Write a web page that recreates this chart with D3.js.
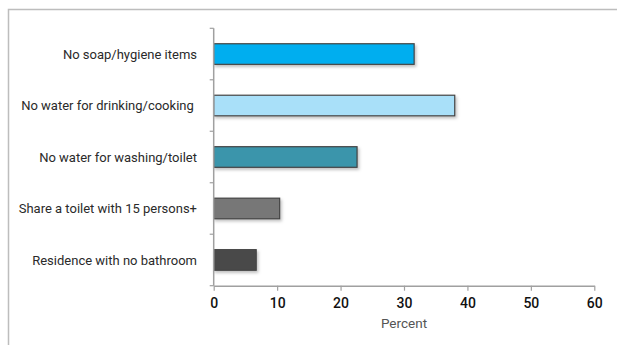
<!DOCTYPE html>
<html><head><meta charset="utf-8">
<script src="https://cdn.jsdelivr.net/npm/d3@7"></script>
<style>body{margin:0;background:#fff;}svg{display:block;}</style>
</head><body>
<script>
const categories = ["No soap/hygiene items","No water for drinking/cooking ","No water for washing/toilet","Share a toilet with 15 persons+","Residence with no bathroom"];
const values = [31.6, 38.0, 22.6, 10.4, 6.7];
const colors = ["#00AEEF","#A9E0F9","#3A95AB","#777777","#4A4A4A"];
const xTicks = [0,10,20,30,40,50,60];
const xTitle = "Percent";

(function(){
const W=617,H=345;
const svg=d3.select("body").append("svg").attr("width",W).attr("height",H);
const font="Roboto, 'DejaVu Sans', sans-serif";
// frame
svg.append("path").attr("d","M8.5,345 V9.5 H617").attr("fill","none").attr("stroke","#bdbdbd").attr("stroke-width",1.5);

const pLeft=213.7,pRight=594.3,pTop=28.3,pBottom=285.7;
const x=d3.scaleLinear().domain([0,60]).range([pLeft,pRight]);
const y=d3.scaleBand().domain(categories).range([pTop,pBottom]).paddingInner(0.6).paddingOuter(0.3);

const defs=svg.append("defs");
const f=defs.append("filter").attr("id","sh").attr("x","-10%").attr("y","-30%").attr("width","130%").attr("height","180%");
f.append("feDropShadow").attr("dx",1.5).attr("dy",2).attr("stdDeviation",1.5).attr("flood-color","#000").attr("flood-opacity",0.25);

svg.append("g").selectAll("rect").data(values).join("rect")
  .attr("x",x(0)).attr("y",(d,i)=>y(categories[i]))
  .attr("width",d=>x(d)-x(0)).attr("height",y.bandwidth())
  .attr("fill",(d,i)=>colors[i]).attr("stroke","#444").attr("stroke-width",1.2)
  .attr("filter","url(#sh)");

// y axis
const step=(pBottom-pTop)/categories.length;
const ya=svg.append("g");
ya.append("line").attr("x1",pLeft).attr("x2",pLeft).attr("y1",pTop).attr("y2",pBottom).attr("stroke","#a0a0a0").attr("stroke-width",1.5);
d3.range(categories.length+1).forEach(i=>{
  ya.append("line").attr("x1",pLeft-4).attr("x2",pLeft).attr("y1",pTop+i*step).attr("y2",pTop+i*step).attr("stroke","#a0a0a0").attr("stroke-width",1.2);
});
ya.selectAll("text").data(categories).join("text")
  .attr("x",197).attr("y",d=>y(d)+y.bandwidth()/2).attr("dy","0.35em")
  .attr("text-anchor","end").attr("font-family",font).attr("font-size",13).attr("fill","#2a2a2a")
  .style("white-space","pre").text(d=>d);

// x axis
const xa=svg.append("g").attr("transform",`translate(0,${pBottom})`)
  .call(d3.axisBottom(x).tickValues(xTicks).tickSize(5).tickSizeOuter(0).tickPadding(7));
xa.select(".domain").attr("stroke","#a0a0a0").attr("stroke-width",1.5);
xa.selectAll(".tick line").attr("stroke","#a0a0a0").attr("stroke-width",1.2);
xa.selectAll("text").attr("font-family",font).attr("font-size",14).attr("font-weight",500).attr("fill","#111");

svg.append("text").attr("x",(pLeft+pRight)/2).attr("y",328).attr("text-anchor","middle")
  .attr("font-family",font).attr("font-size",13.5).attr("fill","#555").text(xTitle);
})();
</script>
</body></html>
